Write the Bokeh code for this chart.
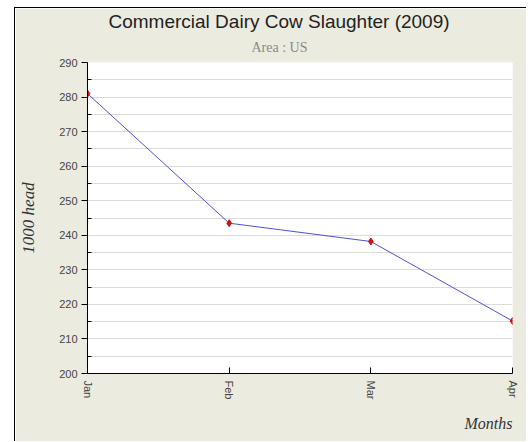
from bokeh.plotting import figure
from bokeh.models import Range1d, FixedTicker, Title
from bokeh.embed import file_html
from bokeh.resources import INLINE

months = ["Jan", "Feb", "Mar", "Apr"]
slaughter = [281.0, 243.5, 238.2, 215.2]
y_ticks = [200, 210, 220, 230, 240, 250, 260, 270, 280, 290]
title_text = "Commercial Dairy Cow Slaughter (2009)"
subtitle_text = "Area : US"
x_label = "Months"
y_label = "1000 head"

xs = list(range(len(months)))

BG = "#ECEBE0"

p = figure(width=512, height=434, output_backend="svg", toolbar_location=None,
           x_range=Range1d(0, 3), y_range=Range1d(200, 290),
           min_border_left=72, min_border_right=15, min_border_top=54, min_border_bottom=69)
p.margin = (7, 0, 0, 14)
p.styles = {"border-left": "1px solid #000", "border-top": "1px solid #000"}
p.border_fill_color = BG
p.background_fill_color = "white"
p.outline_line_color = None

p.xgrid.visible = False
p.ygrid.grid_line_color = "#dcdcdc"
p.ygrid.minor_grid_line_color = "#dcdcdc"

p.yaxis.ticker = FixedTicker(ticks=y_ticks, minor_ticks=[v + 5 for v in y_ticks[:-1]])
p.yaxis.major_tick_out = 6
p.yaxis.major_tick_in = 0
p.yaxis.minor_tick_in = 4
p.yaxis.minor_tick_out = 0
p.xaxis.ticker = FixedTicker(ticks=xs)
p.xaxis.major_label_overrides = {i: m for i, m in enumerate(months)}
p.xaxis.major_label_orientation = "vertical"
p.xaxis.major_tick_in = 6
p.xaxis.major_tick_out = 0
p.xaxis.minor_tick_line_color = None
for ax in (p.xaxis, p.yaxis):
    ax.axis_line_color = "#000000"
    ax.major_tick_line_color = "#000000"
    ax.major_label_text_font = "Liberation Sans"
    ax.major_label_text_font_size = "11px"
    ax.major_label_text_color = "#444444"
p.yaxis.minor_tick_line_color = "#000000"
p.xaxis.major_label_standoff = 7
p.yaxis.major_label_standoff = 4

p.yaxis.axis_label = y_label
p.yaxis.axis_label_standoff = 18
p.yaxis.axis_label_text_font = "Liberation Serif"
p.yaxis.axis_label_text_font_style = "italic"
p.yaxis.axis_label_text_font_size = "17px"
p.yaxis.axis_label_text_color = "#333333"

p.line(xs, slaughter, line_color="#5050d8", line_width=1)
p.scatter(xs, slaughter, marker="diamond", size=7, fill_color="#cc1111", line_color="#cc1111")

p.add_layout(Title(text=subtitle_text, align="left", offset=164, standoff=11, vertical_align="top",
                   text_font="Liberation Serif", text_font_style="normal", text_font_size="14px",
                   text_color="#8a8a8a"), "above")
p.add_layout(Title(text=title_text, align="left", offset=21, standoff=2, vertical_align="top",
                   text_font="Liberation Sans", text_font_style="normal", text_font_size="19px",
                   text_color="#222222"), "above")
p.add_layout(Title(text=x_label, align="right", standoff=21,
                   text_font="Liberation Serif", text_font_style="italic", text_font_size="16px",
                   text_color="#333333"), "below")

open("out.html", "w").write(file_html(p, INLINE))
